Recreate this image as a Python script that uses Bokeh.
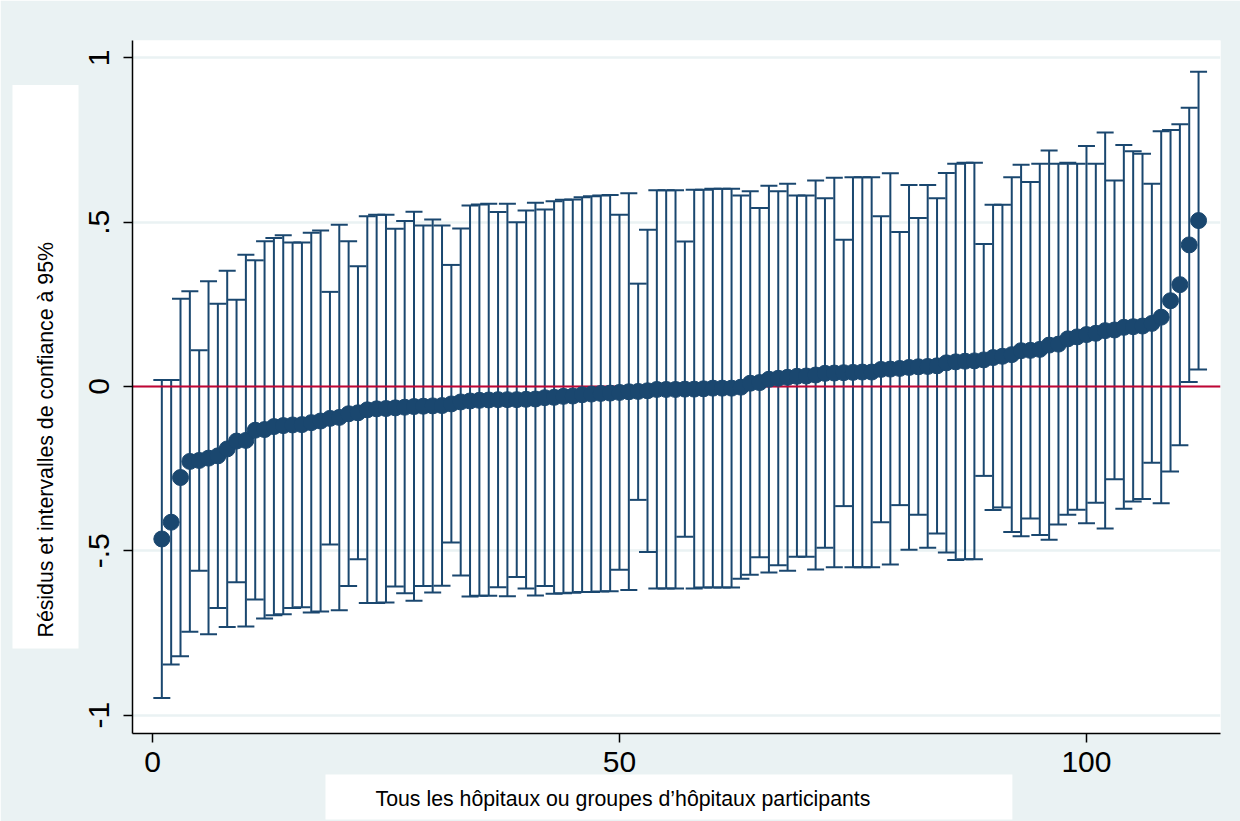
import math
from bokeh.plotting import figure
from bokeh.models import (ColumnDataSource, Whisker, TeeHead, Span, Title,
                          FixedTicker, Range1d, CustomJSTickFormatter)
from bokeh.embed import file_html
from bokeh.resources import INLINE

# ---- data ----
hospital = list(range(1, 113))

residual = [-0.464, -0.413, -0.277, -0.228, -0.225, -0.218, -0.211, -0.190, -0.166, -0.164,
            -0.133, -0.131, -0.122, -0.119, -0.117, -0.116, -0.110, -0.105, -0.097, -0.094,
            -0.083, -0.080, -0.071, -0.068, -0.067, -0.065, -0.063, -0.061, -0.060, -0.059,
            -0.058, -0.053, -0.047, -0.044, -0.042, -0.041, -0.040, -0.040, -0.040, -0.039,
            -0.038, -0.034, -0.033, -0.030, -0.029, -0.025, -0.023, -0.021, -0.020, -0.018,
            -0.016, -0.015, -0.013, -0.009, -0.009, -0.009, -0.008, -0.008, -0.007, -0.005,
            -0.005, -0.005, -0.002, 0.010, 0.012, 0.022, 0.025, 0.028, 0.031, 0.032,
            0.035, 0.040, 0.041, 0.042, 0.043, 0.044, 0.044, 0.052, 0.053, 0.055,
            0.058, 0.060, 0.061, 0.063, 0.072, 0.075, 0.077, 0.078, 0.081, 0.088,
            0.092, 0.097, 0.109, 0.110, 0.113, 0.126, 0.129, 0.145, 0.151, 0.158,
            0.162, 0.170, 0.172, 0.180, 0.182, 0.184, 0.192, 0.211, 0.261, 0.310,
            0.431, 0.505]

upper = [0.020, 0.020, 0.267, 0.290, 0.110, 0.320, 0.252, 0.352, 0.264, 0.401,
         0.384, 0.442, 0.452, 0.460, 0.438, 0.438, 0.468, 0.475, 0.288, 0.492,
         0.442, 0.366, 0.518, 0.523, 0.523, 0.480, 0.504, 0.532, 0.490, 0.508,
         0.490, 0.370, 0.481, 0.551, 0.554, 0.556, 0.531, 0.556, 0.500, 0.536,
         0.559, 0.539, 0.564, 0.568, 0.569, 0.576, 0.579, 0.581, 0.583, 0.523,
         0.588, 0.313, 0.477, 0.597, 0.597, 0.597, 0.441, 0.599, 0.599, 0.602,
         0.602, 0.602, 0.581, 0.594, 0.543, 0.611, 0.594, 0.617, 0.581, 0.581,
         0.627, 0.573, 0.635, 0.447, 0.637, 0.637, 0.637, 0.518, 0.649, 0.470,
         0.613, 0.513, 0.613, 0.573, 0.650, 0.678, 0.681, 0.681, 0.434, 0.553,
         0.553, 0.637, 0.675, 0.622, 0.678, 0.718, 0.678, 0.681, 0.678, 0.732,
         0.678, 0.773, 0.627, 0.735, 0.716, 0.708, 0.617, 0.777, 0.781, 0.798,
         0.848, 0.958]

lower = [-0.948, -0.846, -0.821, -0.746, -0.561, -0.754, -0.674, -0.732, -0.596, -0.730,
         -0.648, -0.706, -0.696, -0.693, -0.674, -0.672, -0.688, -0.685, -0.481, -0.681,
         -0.607, -0.526, -0.659, -0.659, -0.657, -0.609, -0.629, -0.652, -0.607, -0.627,
         -0.606, -0.475, -0.575, -0.639, -0.637, -0.637, -0.611, -0.638, -0.580, -0.615,
         -0.636, -0.607, -0.631, -0.629, -0.628, -0.625, -0.625, -0.624, -0.623, -0.558,
         -0.619, -0.345, -0.504, -0.615, -0.615, -0.615, -0.457, -0.615, -0.612, -0.612,
         -0.612, -0.612, -0.585, -0.573, -0.520, -0.566, -0.544, -0.561, -0.518, -0.518,
         -0.557, -0.491, -0.550, -0.364, -0.550, -0.550, -0.550, -0.413, -0.542, -0.361,
         -0.497, -0.390, -0.491, -0.447, -0.505, -0.528, -0.526, -0.526, -0.272, -0.376,
         -0.368, -0.443, -0.456, -0.402, -0.452, -0.466, -0.420, -0.390, -0.375, -0.416,
         -0.354, -0.432, -0.282, -0.372, -0.350, -0.342, -0.232, -0.355, -0.259, -0.179,
         0.014, 0.052]

y_ticks = [-1, -0.5, 0, 0.5, 1]
x_ticks = [0, 50, 100]
y_title = "Résidus et intervalles de confiance à 95%"
x_title = "Tous les hôpitaux ou groupes d’hôpitaux participants"

# ---- styling ----
NAVY = "#1a476f"
RED = "#c10534"
BG = "#eaf2f3"
FONT = "Liberation Sans"

src = ColumnDataSource(dict(x=hospital, y=residual, u=upper, l=lower))

p = figure(width=1240, height=821, output_backend="svg", toolbar_location=None,
           x_range=Range1d(-2.14, 114.35), y_range=Range1d(-1.056, 1.053),
           min_border_left=132, min_border_right=20, min_border_top=40,
           min_border_bottom=88)
p.border_fill_color = BG
p.background_fill_color = "white"
p.outline_line_color = None

# grid
p.xgrid.visible = False
p.ygrid.ticker = FixedTicker(ticks=y_ticks)
p.ygrid.grid_line_color = BG
p.ygrid.grid_line_width = 2.5

# axes
for ax in (p.xaxis[0], p.yaxis[0]):
    ax.axis_line_color = "black"
    ax.axis_line_width = 1.5
    ax.major_tick_line_color = "black"
    ax.major_tick_line_width = 1.5
    ax.major_tick_out = 9
    ax.major_tick_in = 0
    ax.minor_tick_out = 0
    ax.minor_tick_in = 0
    ax.major_label_text_font = FONT
    ax.major_label_text_font_size = "30px"
    ax.major_label_text_color = "black"

p.xaxis.ticker = FixedTicker(ticks=x_ticks)
p.xaxis.major_label_standoff = 9
p.yaxis.ticker = FixedTicker(ticks=y_ticks)
p.yaxis.major_label_orientation = "vertical"
p.yaxis.major_label_standoff = 14
p.yaxis.formatter = CustomJSTickFormatter(code="""
    if (tick == 0) { return "0"; }
    return tick.toString().replace("0.", ".");
""")

# axis titles, each on a white box as in the reference
p.add_layout(Title(text=y_title, align="left", offset=85, standoff=-112,
                   vertical_align="middle",
                   text_font=FONT, text_font_size="21.3px", text_font_style="normal",
                   text_color="black", background_fill_color="white",
                   padding=dict(left=11, right=157, top=21, bottom=21)), "left")
p.add_layout(Title(text=x_title, align="left", offset=193, standoff=0,
                   vertical_align="top",
                   text_font=FONT, text_font_size="21.3px", text_font_style="normal",
                   text_color="black", background_fill_color="white",
                   padding=dict(left=50, right=142, top=12, bottom=9)), "below")

# error bars
wh = Whisker(source=src, base="x", upper="u", lower="l", dimension="height",
             line_color=NAVY, line_width=2, level="underlay",
             upper_head=TeeHead(size=17, line_color=NAVY, line_width=2),
             lower_head=TeeHead(size=17, line_color=NAVY, line_width=2))
p.add_layout(wh)

# zero line
p.add_layout(Span(location=0, dimension="width", line_color=RED, line_width=2,
                  level="underlay"))

# points
p.scatter("x", "y", source=src, size=16, color=NAVY, line_color=NAVY)

open("out.html", "w").write(file_html(p, INLINE))
